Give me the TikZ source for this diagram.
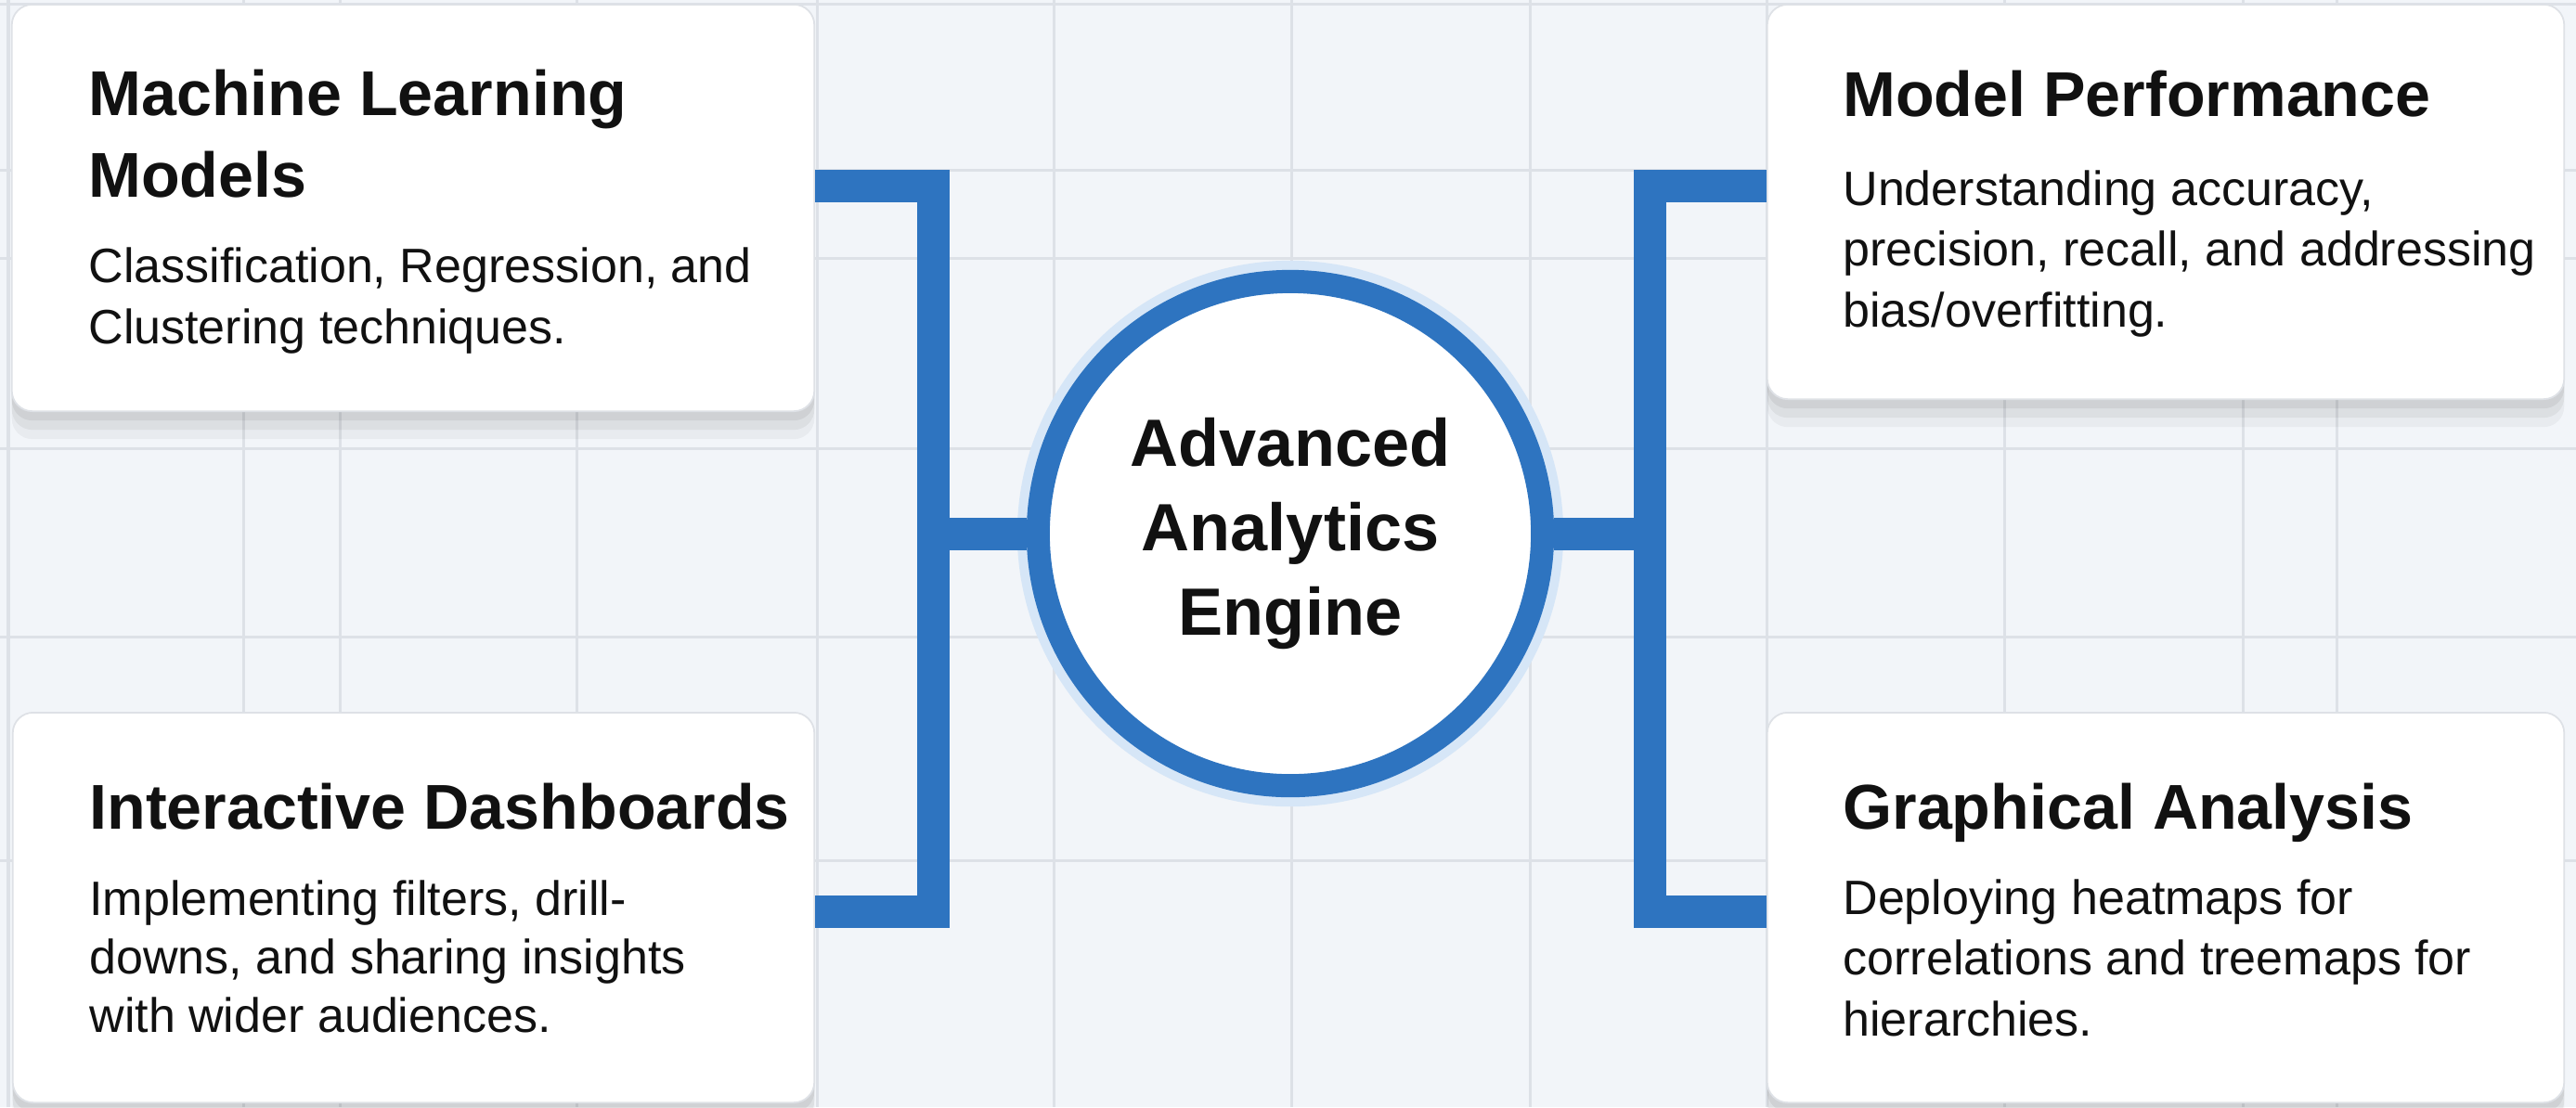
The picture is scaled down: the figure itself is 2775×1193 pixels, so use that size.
\documentclass[tikz,border=0pt]{standalone}
\usepackage{fontspec}
\setmainfont{Liberation Sans}

\definecolor{paper}{RGB}{242,245,249}
\definecolor{gridc}{RGB}{221,225,231}
\definecolor{linkblue}{RGB}{46,116,192}
\definecolor{haloblue}{RGB}{214,230,247}
\definecolor{ink}{RGB}{17,17,17}
\definecolor{cardedge}{RGB}{222,225,230}

\tikzset{
  card/.style={draw=cardedge, line width=0.5pt, fill=white, rounded corners=0.22cm,
    preaction={fill=black, opacity=0.04, transform canvas={yshift=-0.30cm}},
    preaction={fill=black, opacity=0.05, transform canvas={yshift=-0.20cm}},
    preaction={fill=black, opacity=0.06, transform canvas={yshift=-0.10cm}}},
  head/.style={anchor=base west, align=left, text=ink, font=\fontsize{19.4pt}{25pt}\selectfont\bfseries},
  blurb/.style={anchor=base west, align=left, text=ink, font=\fontsize{14.8pt}{18.5pt}\selectfont},
  link/.style={draw=linkblue, line width=0.35cm},
  engine/.style={circle, draw=linkblue, line width=0.25cm, fill=white, minimum size=5.43cm,
    align=center, text=ink, font=\fontsize{20.5pt}{26pt}\selectfont\bfseries},
  gridline/.style={draw=gridc, line width=0.03cm}
}

\begin{document}
\begin{tikzpicture}[x=0.01cm, y=-0.01cm]
\useasboundingbox (0,0) rectangle (2775,1193);
\fill[paper] (0,0) rectangle (2775,1193);

% grid
\foreach \gx in {9,262,366,621,880,1135,1391,1648,1903,2159,2416,2517}
\draw[gridline] (\gx,0) -- (\gx,1193);
\foreach \gy in {4,183,278,483,686,927}
\draw[gridline] (0,\gy) -- (2775,\gy);

% cards
\node[card, minimum width=8.64cm, minimum height=4.38cm] (ml) at (445,224) {};
\node[card, minimum width=8.58cm, minimum height=4.25cm] (mp) at (2333,217.5) {};
\node[card, minimum width=8.63cm, minimum height=4.20cm] (id) at (445.5,978) {};
\node[card, minimum width=8.58cm, minimum height=4.20cm] (ga) at (2333,978) {};

% texts (base = last line)
\node[head] (mlt) at (83,212) {Machine Learning\\Models};
\node[blurb] (mlb) at (83,370) {Classification, Regression, and\\Clustering techniques.};
\node[head] (mpt) at (1973,125) {Model Performance};
\node[blurb] (mpb) at (1973,352) {Understanding accuracy,\\precision, recall, and addressing\\bias/overfitting.};
\node[head] (idt) at (84,893) {Interactive Dashboards};
\node[blurb, font=\fontsize{14.8pt}{17.8pt}\selectfont] (idb) at (84,1112) {Implementing filters, drill-\\downs, and sharing insights\\with wider audiences.};
\node[head] (gat) at (1973,893) {Graphical Analysis};
\node[blurb] (gab) at (1973,1116) {Deploying heatmaps for\\correlations and treemaps for\\hierarchies.};

% centre
\draw[haloblue, line width=0.12cm] (1390,575) circle[radius=2.88cm];
\node[engine] (engine) at (1390,575) {Advanced\\Analytics\\Engine};

% brackets
\coordinate (lt) at (1005,200);
\coordinate (lb) at (1005,982);
\coordinate (rt) at (1777,200);
\coordinate (rb) at (1777,982);
\draw[link] (ml.east |- lt) -- (lt) -- (lb) -- (id.east |- lb);
\draw[link] (lt |- engine) -- (engine.west);
\draw[link] (mp.west |- rt) -- (rt) -- (rb) -- (ga.west |- rb);
\draw[link] (engine.east) -- (rt |- engine);
\end{tikzpicture}
\end{document}
